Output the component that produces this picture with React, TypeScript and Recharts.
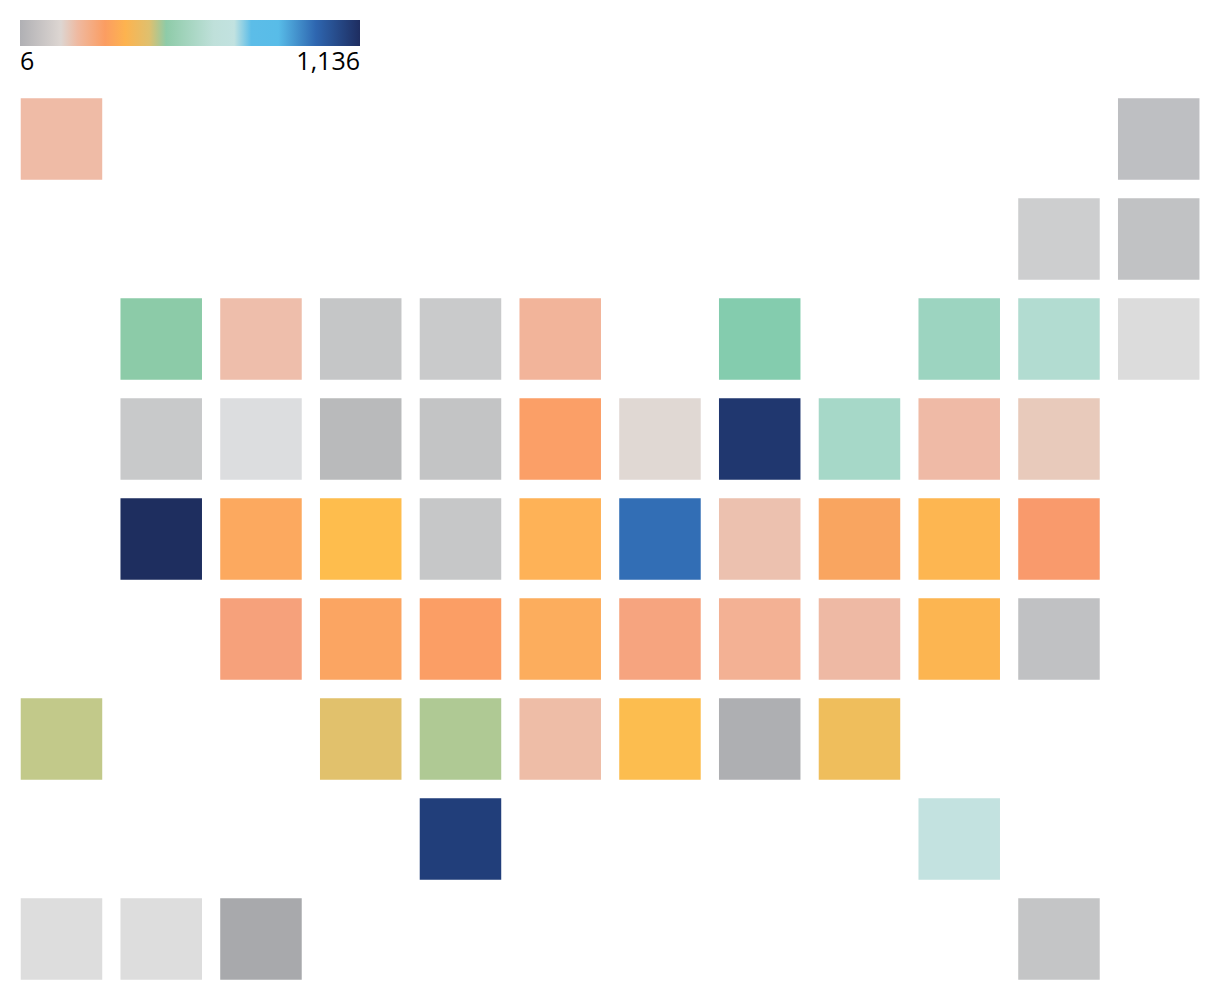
import { Scatter, ScatterChart, XAxis, YAxis } from "recharts";

// Tile grid map: one square per state, coloured by value.
const tileColumns = [
  0, 11,
  10, 11,
  1, 2, 3, 4, 5, 7, 9, 10, 11,
  1, 2, 3, 4, 5, 6, 7, 8, 9, 10,
  1, 2, 3, 4, 5, 6, 7, 8, 9, 10,
  2, 3, 4, 5, 6, 7, 8, 9, 10,
  0, 3, 4, 5, 6, 7, 8,
  4, 9,
  0, 1, 2, 10,
];
const tileRows = [
  0, 0,
  1, 1,
  2, 2, 2, 2, 2, 2, 2, 2, 2,
  3, 3, 3, 3, 3, 3, 3, 3, 3, 3,
  4, 4, 4, 4, 4, 4, 4, 4, 4, 4,
  5, 5, 5, 5, 5, 5, 5, 5, 5,
  6, 6, 6, 6, 6, 6, 6,
  7, 7,
  8, 8, 8, 8,
];
const tileValues = [
  210, 40,
  62, 44,
  490, 205, 50, 56, 225, 500, 530, 590, 110,
  54, 105, 30, 46, 290, 140, 1110, 550, 212, 170,
  1136, 325, 375, 52, 350, 985, 195, 310, 360, 280,
  265, 305, 285, 335, 260, 235, 215, 355, 42,
  465, 430, 480, 200, 380, 10, 400,
  1085, 700,
  112, 112, 6, 48,
];

// value -> colour, the colour scale as it shows on the tiles
const valueColors: Record<number, string> = {
  6: "#a8a9ac", 10: "#aeafb2", 30: "#b9babb", 40: "#bebfc2", 42: "#c0c1c3",
  44: "#c1c2c4", 46: "#c3c4c5", 48: "#c4c5c6", 50: "#c5c6c7", 52: "#c6c7c8",
  54: "#c8c9ca", 56: "#c9cacb", 62: "#cdcecf", 105: "#dcdddf", 110: "#dcdcdc",
  112: "#dddddd", 140: "#e0d8d3", 170: "#e8cabb", 195: "#ecc1af", 200: "#eebda7",
  205: "#eebeab", 210: "#efbba6", 212: "#efbaa6", 215: "#eeb9a4", 225: "#f2b49a",
  235: "#f3b194", 260: "#f6a47f", 265: "#f6a17b", 280: "#f99a6c", 285: "#fb9e65",
  290: "#fb9f67", 305: "#fba562", 310: "#f9a560", 325: "#fca95f", 335: "#fcad5d",
  350: "#feb257", 355: "#fcb551", 360: "#fdb651", 375: "#febd4d", 380: "#fcbd4f",
  400: "#efbe5c", 430: "#e1c16c", 465: "#c2c98a", 480: "#afc994", 490: "#8ccba8",
  500: "#84ccae", 530: "#9cd4c0", 550: "#a6d8c8", 590: "#b2dcd1", 700: "#c3e2e0",
  985: "#326eb5", 1085: "#213e7a", 1110: "#20376f", 1136: "#1e2e5f",
};

const legendLabels = ["6", "1,136"];
const legendColors = [
  "#b0b0b4", "#ddd6d2", "#efb9a0", "#fb9d62", "#fdb34f", "#dfc06e", "#8ecba8",
  "#bfe0da", "#c2e2e0", "#5cbde8", "#58bce8", "#2e66b0", "#1e2d60",
];
const legendOffsets = [0, 12, 17, 25, 31, 38, 43, 57, 63, 68, 76, 87, 100];

const tiles = tileValues.map((value, i) => ({
  column: tileColumns[i],
  row: tileRows[i],
  value,
}));

const TILE_SIZE = 81.5;

function Tile(props: any) {
  return (
    <rect
      x={props.cx - TILE_SIZE / 2}
      y={props.cy - TILE_SIZE / 2}
      width={TILE_SIZE}
      height={TILE_SIZE}
      fill={valueColors[props.payload.value]}
    />
  );
}

export default function App() {
  const gradient = legendColors.map((c, i) => `${c} ${legendOffsets[i]}%`).join(", ");
  return (
    <div style={{ position: "relative", width: 1220, height: 1000 }}>
      <style>{"body { margin: 0; background: #fff; }"}</style>
      <ScatterChart
        width={1220}
        height={1000}
        margin={{ top: 89, right: 11.4, bottom: 11, left: 11.6 }}
      >
        <XAxis type="number" dataKey="column" domain={[-0.5, 11.5]} hide />
        <YAxis type="number" dataKey="row" domain={[-0.5, 8.5]} reversed hide />
        <Scatter data={tiles} shape={Tile} isAnimationActive={false} />
      </ScatterChart>
      <div
        style={{
          position: "absolute",
          left: 20,
          top: 20,
          width: 340,
          height: 26,
          background: `linear-gradient(to right, ${gradient})`,
        }}
      />
      <div
        style={{
          position: "absolute",
          left: 20,
          top: 43,
          width: 340,
          display: "flex",
          justifyContent: "space-between",
          fontFamily: "'Open Sans', sans-serif",
          fontSize: 25,
          lineHeight: "35px",
          color: "#000",
        }}
      >
        {legendLabels.map((label) => (
          <span key={label}>{label}</span>
        ))}
      </div>
    </div>
  );
}
